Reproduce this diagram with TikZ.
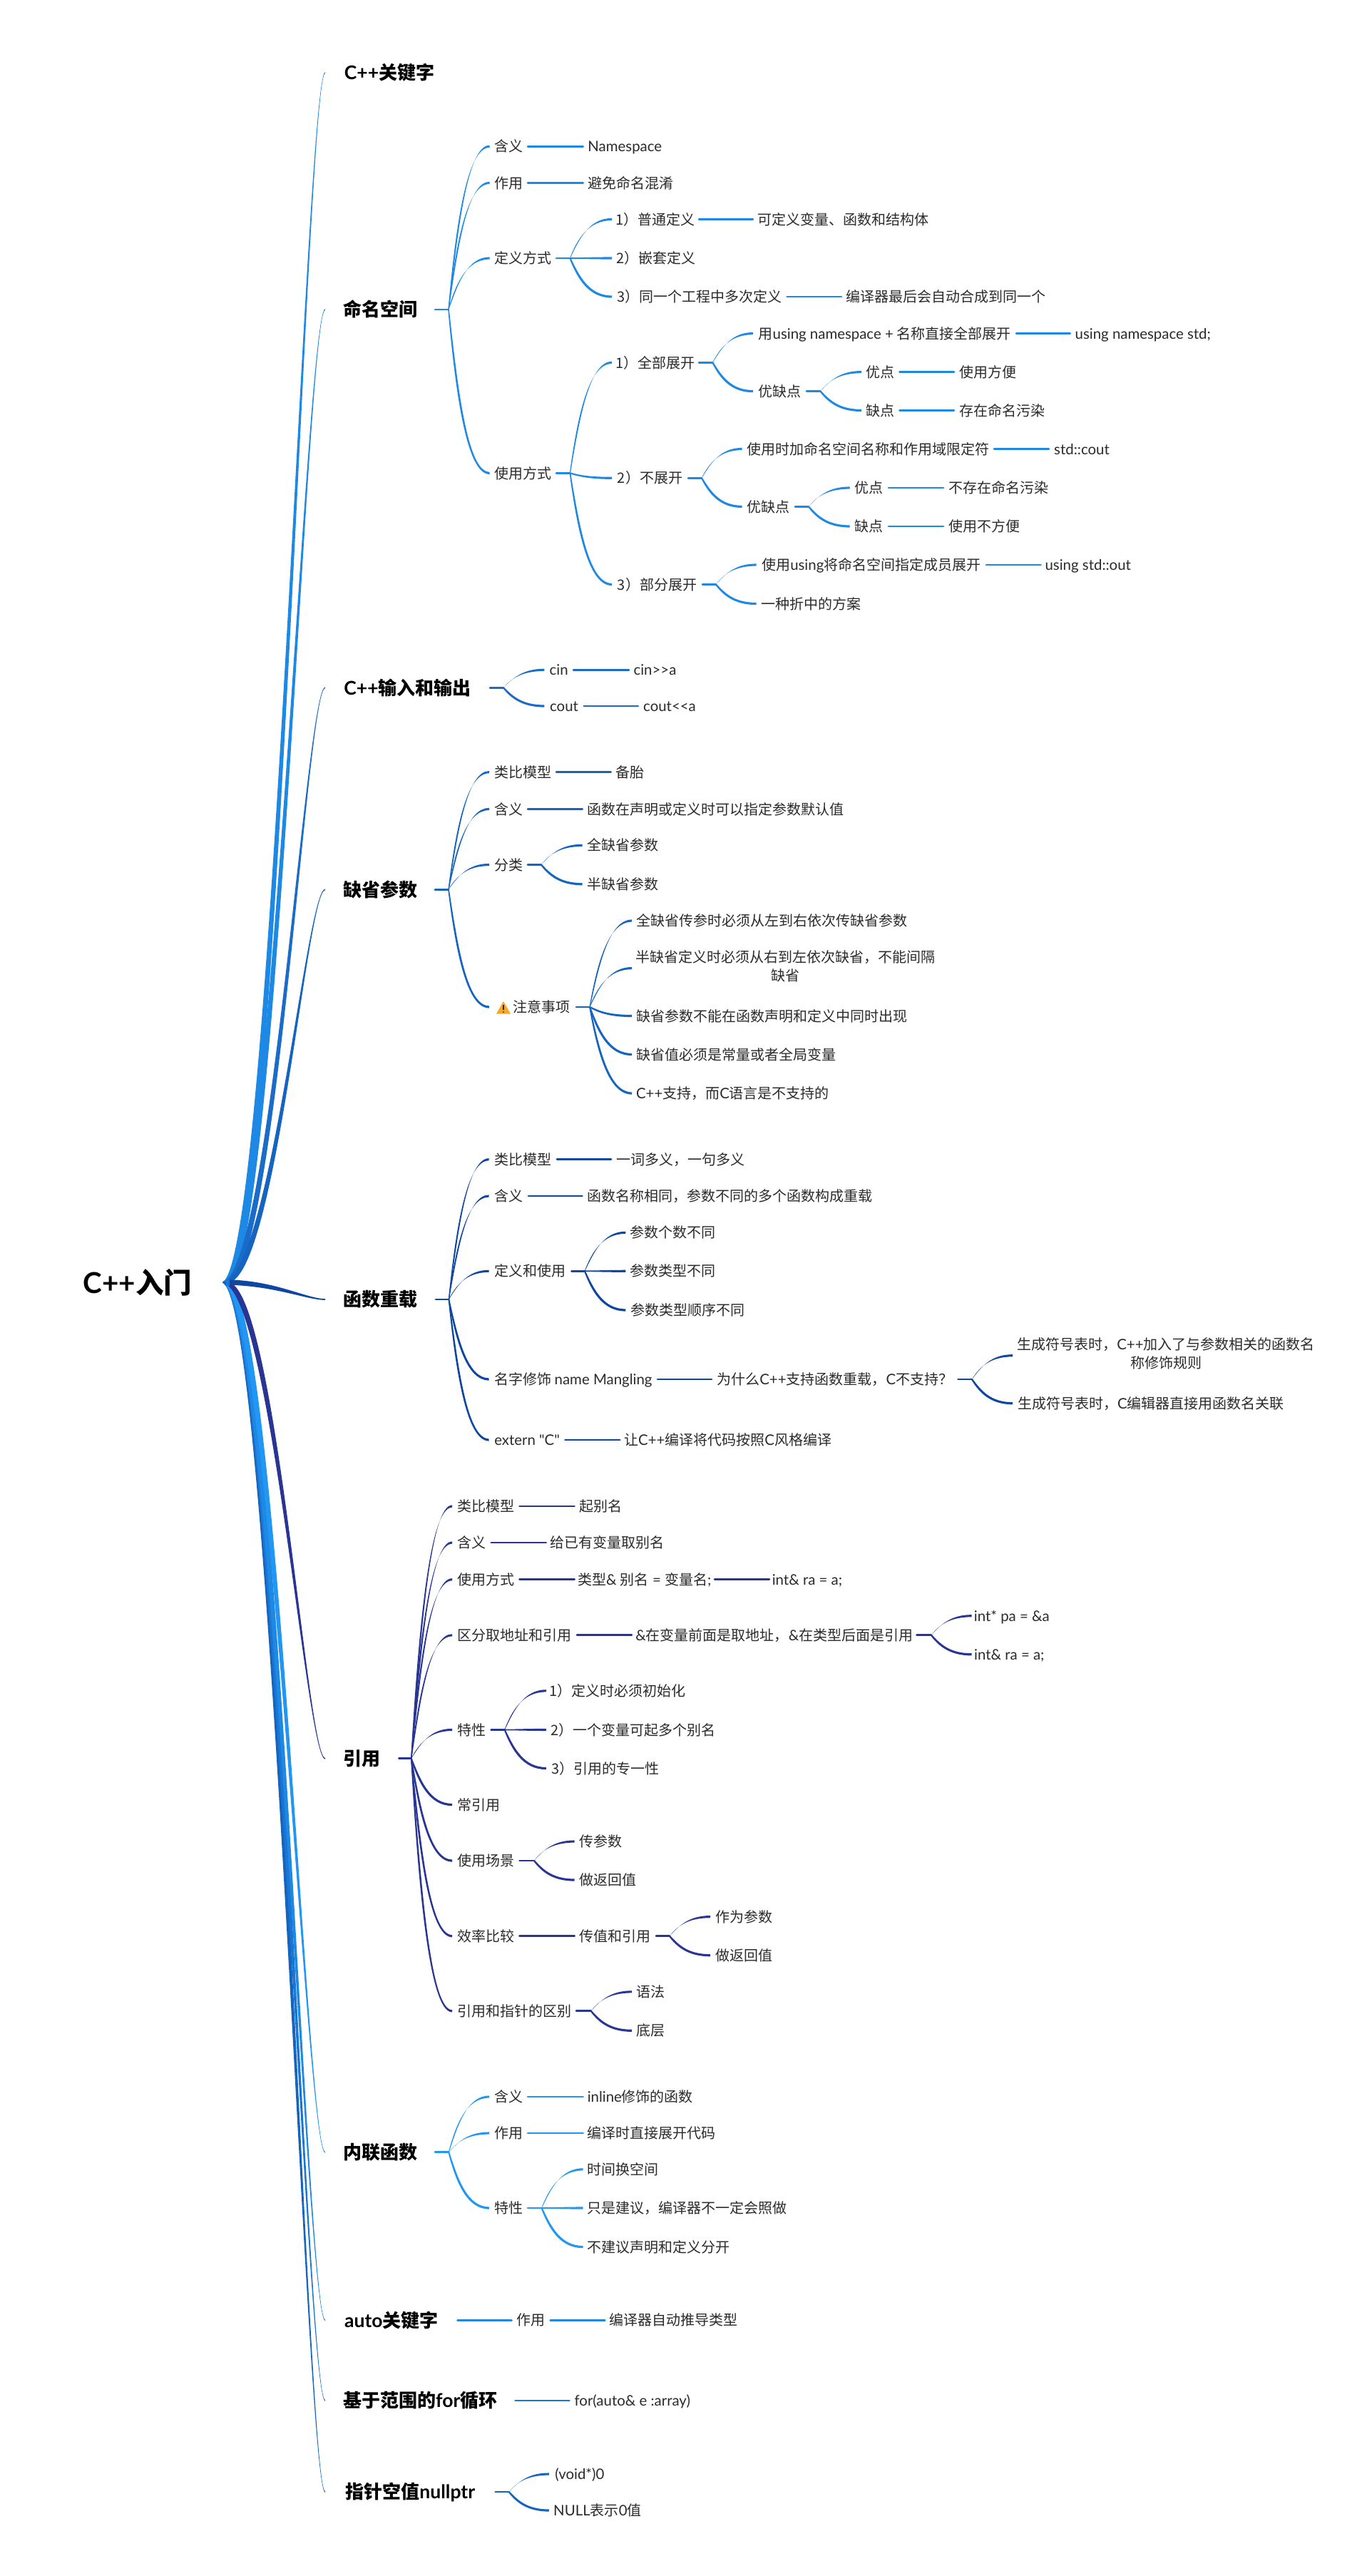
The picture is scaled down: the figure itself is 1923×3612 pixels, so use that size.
\documentclass[tikz,border=0pt]{standalone}
\usepackage{fontspec}
\usetikzlibrary{calc}
\setmainfont{Noto Sans CJK SC}
\newfontfamily\latf[Scale=1.02,Ligatures=ResetAll]{Lato}
\newcommand{\lat}[1]{{\latf #1}}
\definecolor{txt}{HTML}{2B2B2B}
\definecolor{ckw}{HTML}{1E88E5}
\definecolor{cns}{HTML}{1E88E5}
\definecolor{cio}{HTML}{1A6CC8}
\definecolor{cdf}{HTML}{1565C0}
\definecolor{cfn}{HTML}{0D47A1}
\definecolor{crf}{HTML}{283593}
\definecolor{cin}{HTML}{2196F3}
\definecolor{cau}{HTML}{1E88E5}
\definecolor{cfo}{HTML}{1976D2}
\definecolor{cnu}{HTML}{1565C0}
\definecolor{warn}{HTML}{F9A825}
\tikzset{
  nb/.style={inner sep=0pt,outer sep=0pt,font=\fontsize{20}{26}\selectfont,text=txt,text height=18.2pt,text depth=3pt},
  top/.style={font=\fontsize{26}{32}\selectfont\bfseries,text=black,text height=24pt,text depth=4.2pt},
  rootn/.style={font=\fontsize{39.5}{46}\selectfont\bfseries,text=black,text height=35.4pt,text depth=5.4pt},
  multi/.style={text height=,text depth=},
  lnk/.style={line width=2.8pt,line cap=round}
}
\newcommand{\nd}[6][]{\node[nb,#1,anchor=west] (#2) at (#3,#5) {\makebox[\dimexpr#4pt-#3pt\relax]{#6}};}
\newcommand{\two}[2]{\begin{tabular}{@{}c@{}}#1\\#2\end{tabular}}
\newcommand{\lk}[2]{\draw[lnk,draw=\bc] (#1.east) -- (#2.west);}
\newcommand{\stb}[2]{\coordinate (#1j) at ($(#1.east)+(#2pt,0pt)$);\draw[lnk,draw=\bc] (#1.east) -- (#1j);}
\newcommand{\br}[2]{\fill[fill=\bc] let \p1=(#1j), \p2=(#2.west), \n1={\x2-\x1}, \n2={\y2-\y1} in
  ({\x1+0.7pt},{\y1+0.9pt}) .. controls ({\x1+0.2*\n1+1.7pt},{\y1+0.5*\n2+0.6pt}) and ({\x1+0.45*\n1+1pt},{\y2+1.5pt}) .. ({\x2},{\y2+1.6pt})
  -- ({\x2},{\y2-1.6pt}) .. controls ({\x1+0.45*\n1-1pt},{\y2-1.5pt}) and ({\x1+0.2*\n1-1.7pt},{\y1+0.5*\n2-0.6pt}) .. ({\x1-0.7pt},{\y1-0.9pt}) -- cycle;}
\newcommand{\mainb}[2]{\fill[fill=#2] let \p1=(root.east), \p2=(#1.west), \n1={abs(\y2-\y1)}, \n2={4.5*\n1/(\n1+100)}, \n3={450/(\n1+100)},
  \n4={(\y2>\y1)?-1:1}, \n5={\y2-\y1} in
  ({\x1+\n2},{\y1+\n4*\n3})
  .. controls ({\x1+68pt+\n2},{\y1+0.016*\n5+\n4*\n3}) and ({\x2-26pt+0.2*\n2},{\y2+0.2*\n4*\n3}) .. ({\x2},{\y2+0.9pt*\n4})
  -- ({\x2},{\y2-0.9pt*\n4})
  .. controls ({\x2-26pt-0.2*\n2},{\y2-0.2*\n4*\n3}) and ({\x1+68pt-\n2},{\y1+0.016*\n5-\n4*\n3}) .. ({\x1-\n2},{\y1-\n4*\n3}) -- cycle;}
\begin{document}
\begin{tikzpicture}[x=1pt,y=-1pt]
\useasboundingbox[fill=white] (0,0) rectangle (1923,3612);
% root and top level
\nd[rootn]{root}{114}{316}{1798}{\hspace*{-44pt}\lat{C++}入门}
\nd[top]{kw}{456}{636}{102}{\lat{C++}关键字}
\nd[top]{ns}{456}{610}{434}{命名空间}
\nd[top]{io}{456}{687}{964.3}{\lat{C++}输入和输出}
\nd[top]{df}{456}{610}{1247.3}{缺省参数}
\nd[top]{fn}{456}{611}{1822}{函数重载}
\nd[top]{rf}{456}{559.4}{2465.7}{引用}
\nd[top]{il}{456}{610}{3017.8}{内联函数}
\nd[top]{au}{456}{641.6}{3253.3}{\lat{auto}关键字}
\nd[top]{fo}{456}{722.6}{3366}{基于范围的\lat{for}循环}
\nd[top]{nu}{456}{694.6}{3494}{指针空值\lat{nullptr}}
\mainb{kw}{ckw}\mainb{ns}{cns}\mainb{io}{cio}\mainb{df}{cdf}
\mainb{nu}{cnu}\mainb{fo}{cfo}\mainb{au}{cau}\mainb{il}{cin}\mainb{rf}{crf}\mainb{fn}{cfn}
\draw[line width=9pt,draw=cfo] (root.east) -- ++(6,0);
% namespace
\def\bc{cns}
\nd{ns1}{686.5}{740}{205.3}{含义}
\nd{ns1a}{817.6}{935}{205.3}{\lat{Namespace}}
\nd{ns2}{686.5}{740}{256.4}{作用}
\nd{ns2a}{817.6}{951}{256.4}{避免命名混淆}
\nd{ns3}{686.5}{780}{362}{定义方式}
\nd{ns4}{686.5}{780}{663.4}{使用方式}
\nd{d1}{858}{980}{307.5}{1）普通定义}
\nd{d1a}{1056}{1309}{307.5}{可定义变量、函数和结构体}
\nd{d2}{858}{982}{362}{2）嵌套定义}
\nd{d3}{858}{1103.6}{416}{3）同一个工程中多次定义}
\nd{d3a}{1180}{1473}{416}{编译器最后会自动合成到同一个}
\nd{u1}{858}{980}{508.4}{1）全部展开}
\nd{u1a}{1056}{1425}{467.6}{用\lat{using namespace +} 名称直接全部展开}
\nd{u1b}{1500.6}{1705}{467.6}{\lat{using namespace std;}}
\nd{u1c}{1056}{1131}{548.6}{优缺点}
\nd{u1d}{1208}{1261.5}{521.6}{优点}
\nd{u1e}{1338}{1433}{521.6}{使用方便}
\nd{u1f}{1208}{1261.5}{575.5}{缺点}
\nd{u1g}{1338}{1473}{575.5}{存在命名污染}
\nd{u2}{858}{965}{670.3}{2）不展开}
\nd{u2a}{1040.5}{1394}{629.5}{使用时加命名空间名称和作用域限定符}
\nd{u2b}{1471}{1563}{629.5}{\lat{std::cout}}
\nd{u2c}{1040.5}{1115}{710.4}{优缺点}
\nd{u2d}{1191.6}{1246}{684}{优点}
\nd{u2e}{1323}{1477}{684}{不存在命名污染}
\nd{u2f}{1191.6}{1246}{738}{缺点}
\nd{u2g}{1323}{1437}{738}{使用不方便}
\nd{u3}{858}{985}{819.5}{3）部分展开}
\nd{u3a}{1060.6}{1383}{792}{使用\lat{using}将命名空间指定成员展开}
\nd{u3b}{1459.5}{1592}{792}{\lat{using std::out}}
\nd{u3c}{1060.6}{1215}{846.5}{一种折中的方案}
\stb{ns}{19}\br{ns}{ns1}\br{ns}{ns2}\br{ns}{ns3}\br{ns}{ns4}
\lk{ns1}{ns1a}\lk{ns2}{ns2a}
\stb{ns3}{19.4}\br{ns3}{d1}\br{ns3}{d2}\br{ns3}{d3}\lk{d1}{d1a}\lk{d3}{d3a}
\stb{ns4}{19.4}\br{ns4}{u1}\br{ns4}{u2}\br{ns4}{u3}
\stb{u1}{19.4}\br{u1}{u1a}\br{u1}{u1c}\lk{u1a}{u1b}
\stb{u1c}{19.5}\br{u1c}{u1d}\br{u1c}{u1f}\lk{u1d}{u1e}\lk{u1f}{u1g}
\stb{u2}{19}\br{u2}{u2a}\br{u2}{u2c}\lk{u2a}{u2b}
\stb{u2c}{19}\br{u2c}{u2d}\br{u2c}{u2f}\lk{u2d}{u2e}\lk{u2f}{u2g}
\stb{u3}{19}\br{u3}{u3a}\br{u3}{u3c}\lk{u3a}{u3b}
% io
\def\bc{cio}
\nd{io1}{763.3}{804}{939.3}{\lat{cin}}
\nd{io1a}{882}{955}{939.3}{\lat{cin>\kern0pt>a}}
\nd{io2}{763.3}{818.8}{990}{\lat{cout}}
\nd{io2a}{895}{983}{990}{\lat{cout<\kern0pt<a}}
\stb{io}{19}\br{io}{io1}\br{io}{io2}\lk{io1}{io1a}\lk{io2}{io2a}
% default args
\def\bc{cdf}
\nd{df1}{686}{780}{1082.6}{类比模型}
\nd{df1a}{856.6}{910}{1082.6}{备胎}
\nd{df2}{686}{740}{1134.4}{含义}
\nd{df2a}{816.6}{1190}{1134.4}{函数在声明或定义时可以指定参数默认值}
\nd{df3}{686}{740}{1212.5}{分类}
\nd{df3a}{816.6}{931}{1185.3}{全缺省参数}
\nd{df3b}{816.6}{931}{1239.7}{半缺省参数}
\nd{df4}{686}{808}{1412}{\hspace*{25pt}注意事项}
\fill[warn] (696,1421.5) -- (706,1404) -- (716,1421.5) -- cycle;
\draw[line width=1.6pt,draw=txt] (706,1409) -- (706,1416);
\fill[txt] (706,1419) circle (1pt);
\nd{n1}{886}{1279}{1291}{全缺省传参时必须从左到右依次传缺省参数}
\nd[multi]{n2}{886}{1317}{1357.6}{\two{半缺省定义时必须从右到左依次缺省，不能间隔}{缺省}}
\nd{n3}{886}{1279}{1424.5}{缺省参数不能在函数声明和定义中同时出现}
\nd{n4}{886}{1178}{1478.5}{缺省值必须是常量或者全局变量}
\nd{n5}{886}{1169}{1533}{\lat{C++}支持，而\lat{C}语言是不支持的}
\stb{df}{19}\br{df}{df1}\br{df}{df2}\br{df}{df3}\br{df}{df4}
\lk{df1}{df1a}\lk{df2}{df2a}
\stb{df3}{19}\br{df3}{df3a}\br{df3}{df3b}
\stb{df4}{19}\br{df4}{n1}\br{df4}{n2}\br{df4}{n3}\br{df4}{n4}\br{df4}{n5}
% overload
\def\bc{cfn}
\nd{fn1}{685.7}{781}{1625.7}{类比模型}
\nd{fn1a}{857}{1051}{1625.7}{一词多义，一句多义}
\nd{fn2}{685.7}{741}{1677}{含义}
\nd{fn2a}{816.5}{1230}{1677}{函数名称相同，参数不同的多个函数构成重载}
\nd{fn3}{685.7}{801.6}{1782.3}{定义和使用}
\nd{fn3a}{877.4}{1010}{1728.3}{参数个数不同}
\nd{fn3b}{877.4}{1010}{1782.3}{参数类型不同}
\nd{fn3c}{877.4}{1051}{1837}{参数类型顺序不同}
\nd{fn4}{685.7}{922}{1934}{名字修饰 \lat{name Mangling}}
\nd{fn4a}{998}{1343.5}{1934}{为什么\lat{C++}支持函数重载，\lat{C}不支持？}
\nd[multi]{fn4b}{1420}{1850}{1900.7}{\two{生成符号表时，\lat{C++}加入了与参数相关的函数名}{称修饰规则}}
\nd{fn4c}{1420}{1808}{1967.7}{生成符号表时，\lat{C}编辑器直接用函数名关联}
\nd{fn5}{685.7}{792.4}{2019}{\lat{extern "C"}}
\nd{fn5a}{869.3}{1172}{2019}{让\lat{C++}编译将代码按照\lat{C}风格编译}
\stb{fn}{18.4}\br{fn}{fn1}\br{fn}{fn2}\br{fn}{fn3}\br{fn}{fn4}\br{fn}{fn5}
\lk{fn1}{fn1a}\lk{fn2}{fn2a}\lk{fn4}{fn4a}\lk{fn5}{fn5a}
\stb{fn3}{18.4}\br{fn3}{fn3a}\br{fn3}{fn3b}\br{fn3}{fn3c}
\stb{fn4a}{19.5}\br{fn4a}{fn4b}\br{fn4a}{fn4c}
% reference
\def\bc{crf}
\nd{r1}{634}{728.5}{2112}{类比模型}
\nd{r1a}{805.6}{879}{2112}{起别名}
\nd{r2}{634}{688.7}{2163}{含义}
\nd{r2a}{765.8}{938}{2163}{给已有变量取别名}
\nd{r3}{634}{728.5}{2214.7}{使用方式}
\nd{r3a}{805.6}{1002}{2214.7}{类型\lat{\& }别名\lat{ = }变量名\lat{;}}
\nd{r3b}{1079}{1185}{2214.7}{\lat{int\& ra = a;}}
\nd{r4}{634}{809}{2292.8}{区分取地址和引用}
\nd{r4a}{886}{1285.6}{2292.8}{\lat{\&}在变量前面是取地址，\lat{\&}在类型后面是引用}
\nd{r4b}{1362.7}{1475}{2265.7}{\lat{int* pa = \&a}}
\nd{r4c}{1362.7}{1468}{2319.8}{\lat{int\& ra = a;}}
\nd{r5}{634}{688.7}{2425.4}{特性}
\nd{r5a}{765.8}{967}{2370.8}{1）定义时必须初始化}
\nd{r5b}{765.8}{1011}{2425.4}{2）一个变量可起多个别名}
\nd{r5c}{765.8}{932}{2479.5}{3）引用的专一性}
\nd{r6}{634}{708}{2530.5}{常引用}
\nd{r7}{634}{728.5}{2609}{使用场景}
\nd{r7a}{805.6}{879}{2582}{传参数}
\nd{r7b}{805.6}{899}{2636}{做返回值}
\nd{r8}{634}{728.5}{2714.7}{效率比较}
\nd{r8a}{805.6}{920}{2714.7}{传值和引用}
\nd{r8b}{996}{1090}{2687.6}{作为参数}
\nd{r8c}{996}{1090}{2741.7}{做返回值}
\nd{r9}{634}{808}{2819.8}{引用和指针的区别}
\nd{r9a}{886}{939}{2792.8}{语法}
\nd{r9b}{886}{939}{2847.3}{底层}
\stb{rf}{17.4}\br{rf}{r1}\br{rf}{r2}\br{rf}{r3}\br{rf}{r4}\br{rf}{r5}\br{rf}{r6}\br{rf}{r7}\br{rf}{r8}\br{rf}{r9}
\lk{r1}{r1a}\lk{r2}{r2a}\lk{r3}{r3a}\lk{r3a}{r3b}\lk{r4}{r4a}\lk{r8}{r8a}
\stb{r4a}{20.4}\br{r4a}{r4b}\br{r4a}{r4c}
\stb{r5}{19}\br{r5}{r5a}\br{r5}{r5b}\br{r5}{r5c}
\stb{r7}{20.5}\br{r7}{r7a}\br{r7}{r7b}
\stb{r8a}{19}\br{r8a}{r8b}\br{r8a}{r8c}
\stb{r9}{20.8}\br{r9}{r9a}\br{r9}{r9b}
% inline
\def\bc{cin}
\nd{i1}{686}{740}{2940}{含义}
\nd{i1a}{817.7}{978}{2940}{\lat{inline}修饰的函数}
\nd{i2}{686}{740}{2991}{作用}
\nd{i2a}{817.7}{1010}{2991}{编译时直接展开代码}
\nd{i3}{686}{740}{3096}{特性}
\nd{i3a}{817.7}{930}{3041.8}{时间换空间}
\nd{i3b}{817.7}{1109}{3096}{只是建议，编译器不一定会照做}
\nd{i3c}{817.7}{1030}{3150.6}{不建议声明和定义分开}
\stb{il}{19.3}\br{il}{i1}\br{il}{i2}\br{il}{i3}\lk{i1}{i1a}\lk{i2}{i2a}
\stb{i3}{19.6}\br{i3}{i3a}\br{i3}{i3b}\br{i3}{i3c}
% auto
\def\bc{cau}
\nd{a1}{717.5}{771.7}{3253.3}{作用}
\nd{a1a}{848.3}{1041}{3253.3}{编译器自动推导类型}
\lk{au}{a1}\lk{a1}{a1a}
% for
\def\bc{cfo}
\nd{f1}{798.5}{975}{3366}{\lat{for(auto\& e :array)}}
\lk{fo}{f1}
% nullptr
\def\bc{cnu}
\nd{nu1}{769.8}{856}{3469}{\lat{(void*)0}}
\nd{nu2}{769.8}{906}{3520}{\lat{NULL}表示\lat{0}值}
\stb{nu}{19.1}\br{nu}{nu1}\br{nu}{nu2}
\end{tikzpicture}
\end{document}
